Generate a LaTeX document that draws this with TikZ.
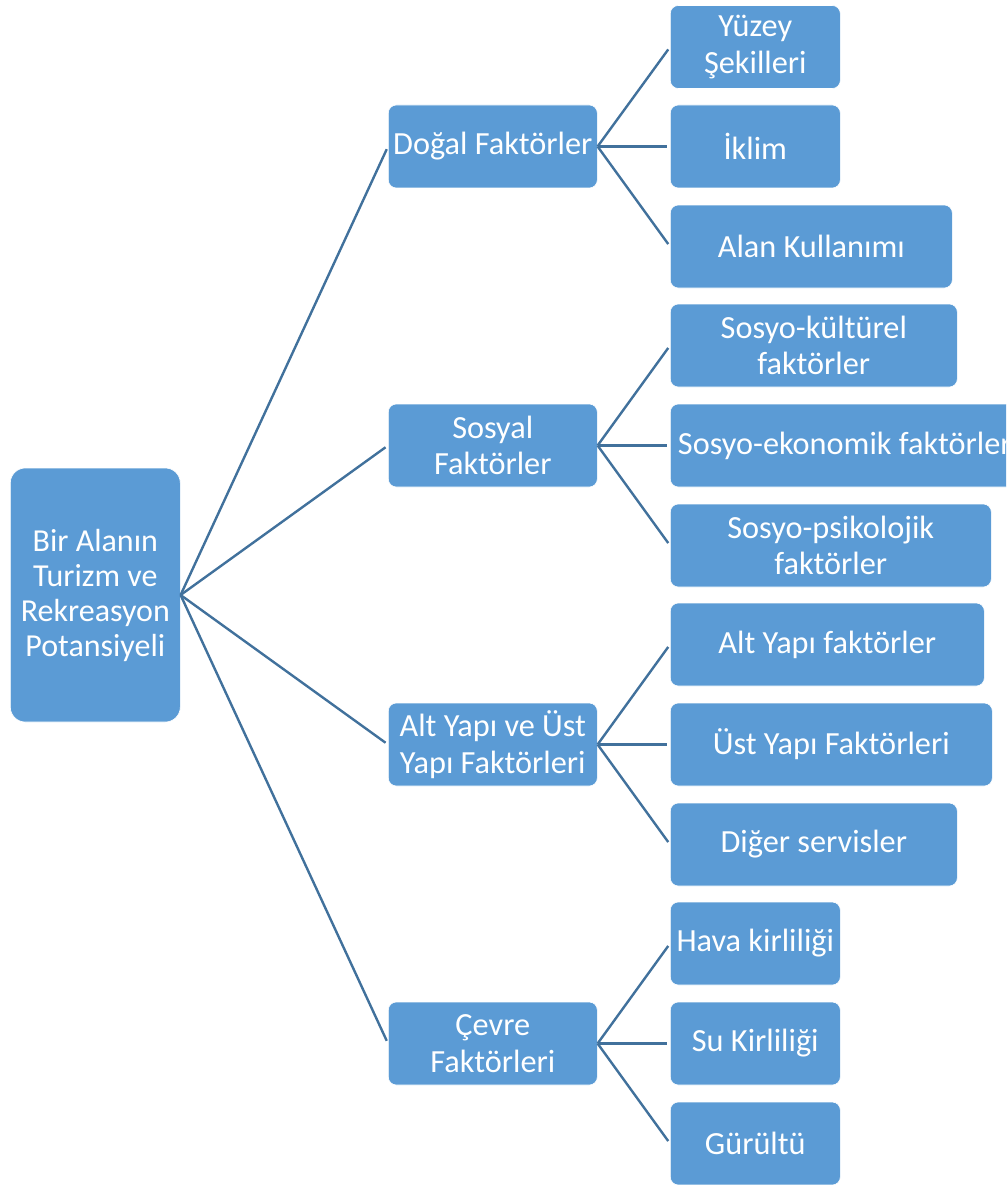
\documentclass[tikz,border=0pt]{standalone}
\usepackage{fontspec}
\setmainfont{Carlito}
\definecolor{boxblue}{HTML}{5B9BD5}
\definecolor{lineblue}{HTML}{41719C}
\begin{document}
\begin{tikzpicture}[x=1pt,y=-1pt,
  box/.style={rectangle, rounded corners=8pt, fill=boxblue, draw=white, line width=0.6pt,
    text=white, align=center, inner sep=0pt, anchor=west,
    font=\fontsize{32.3}{36.5}\selectfont, minimum height=83pt},
  lvtwo/.style={box, minimum width=209pt},
  conn/.style={draw=lineblue, line width=2.4pt, shorten >=3pt}]
\useasboundingbox (0,0) rectangle (1006,1185);
\clip (0,0) rectangle (1006,1185);
% root
\node[box, rounded corners=15pt, minimum width=170pt, minimum height=254pt,
  font=\fontsize{32}{35}\selectfont] (root) at (10,595)
  {Bir Alanın\\Turizm ve\\Rekreasyon\\Potansiyeli};
% level 2
\node[lvtwo] (dogal) at (388,146.5) {Doğal Faktörler};
\node[lvtwo] (sosyal) at (388,445.5) {Sosyal\\Faktörler};
\node[lvtwo] (yapi) at (388,744.5) {Alt Yapı ve Üst\\Yapı Faktörleri};
\node[lvtwo] (cevre) at (388,1043.5) {Çevre\\Faktörleri};
% level 3
\node[box, minimum width=170pt] (yuzey) at (670,47) {Yüzey\\Şekilleri};
\node[box, minimum width=170pt] (iklim) at (670,146.5) {İklim};
\node[box, minimum width=282pt] (alan) at (670,246.5) {Alan Kullanımı};
\node[box, minimum width=287pt] (kultur) at (670,345.5) {Sosyo-kültürel\\faktörler};
\node[box, minimum width=349pt] (ekonomi) at (670,445.5) {Sosyo-ekonomik faktörler};
\node[box, minimum width=321pt] (psiko) at (670,545.5) {Sosyo-psikolojik\\faktörler};
\node[box, minimum width=314pt] (altyapi) at (670,644.5) {Alt Yapı faktörler};
\node[box, minimum width=322pt] (ustyapi) at (670,744.5) {Üst Yapı Faktörleri};
\node[box, minimum width=287pt] (diger) at (670,844.5) {Diğer servisler};
\node[box, minimum width=170pt] (hava) at (670,943.5) {Hava kirliliği};
\node[box, minimum width=170pt] (su) at (670,1043.5) {Su Kirliliği};
\node[box, minimum width=170pt] (gurultu) at (670,1143.5) {Gürültü};
% connectors
\foreach \c in {dogal,sosyal,yapi,cevre} \draw[conn] (root.east) -- (\c.west);
\foreach \c in {yuzey,iklim,alan} \draw[conn] (dogal.east) -- (\c.west);
\foreach \c in {kultur,ekonomi,psiko} \draw[conn] (sosyal.east) -- (\c.west);
\foreach \c in {altyapi,ustyapi,diger} \draw[conn] (yapi.east) -- (\c.west);
\foreach \c in {hava,su,gurultu} \draw[conn] (cevre.east) -- (\c.west);
\end{tikzpicture}
\end{document}
